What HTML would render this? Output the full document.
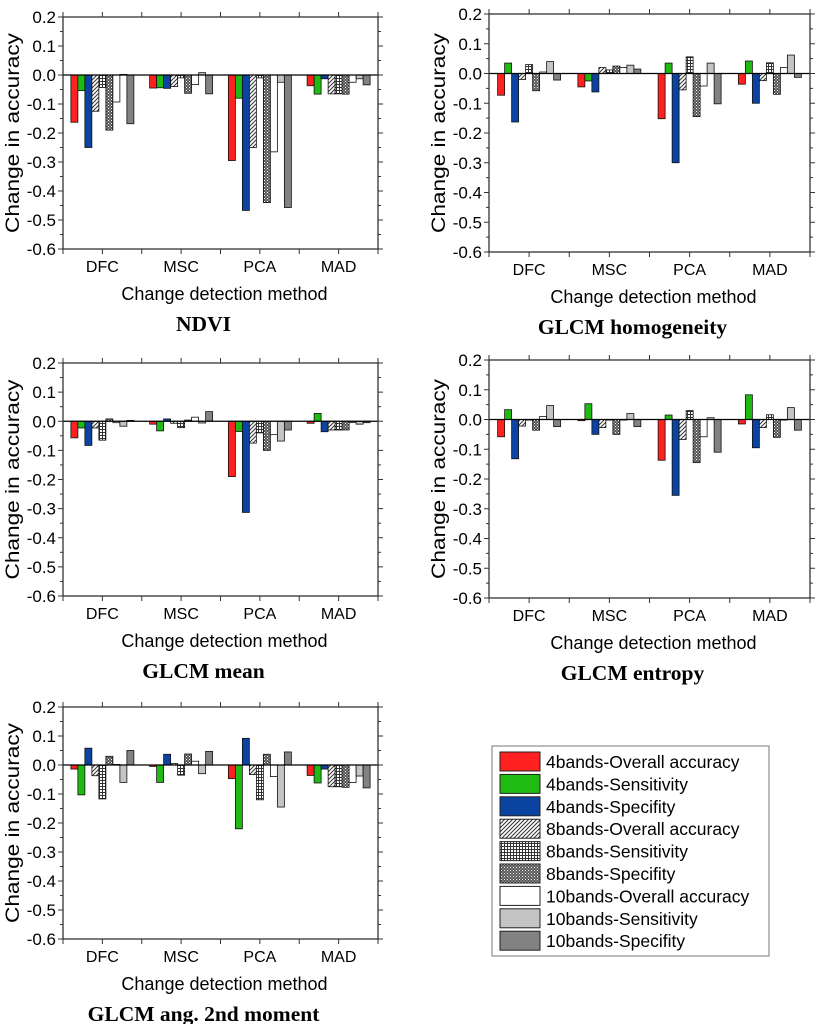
<!DOCTYPE html>
<html><head><meta charset="utf-8"><style>
body{margin:0;background:#fff;width:822px;height:1024px;overflow:hidden}
svg{display:block}
text{font-family:"Liberation Sans",sans-serif;fill:#000}
.ttl{font-family:"Liberation Serif",serif;font-weight:bold;font-size:21.5px}
</style></head><body>
<svg id="fig" width="822" height="1024" viewBox="0 0 822 1024" xmlns="http://www.w3.org/2000/svg">
<defs>
<pattern id="p-hatch" width="4" height="4" patternUnits="userSpaceOnUse"><rect width="4" height="4" fill="#fff"/><path d="M-1,5 L5,-1 M-1,1 L1,-1 M3,5 L5,3" stroke="#333" stroke-width="1"/></pattern>
<pattern id="p-grid" width="3" height="3" patternUnits="userSpaceOnUse"><rect width="3" height="3" fill="#fff"/><path d="M0,0.5 H3 M0.5,0 V3" stroke="#333" stroke-width="1"/></pattern>
<pattern id="p-cross" width="3" height="3" patternUnits="userSpaceOnUse"><rect width="3" height="3" fill="#555"/><rect x="0" y="0" width="1" height="1" fill="#fff"/><rect x="1.5" y="1.5" width="1" height="1" fill="#ddd"/></pattern>
</defs>
</svg>
<script>
const categories = ["DFC","MSC","PCA","MAD"];
const seriesNames = ["4bands-Overall accuracy","4bands-Sensitivity","4bands-Specifity","8bands-Overall accuracy","8bands-Sensitivity","8bands-Specifity","10bands-Overall accuracy","10bands-Sensitivity","10bands-Specifity"];
const yTicks = ["0.2","0.1","0.0","-0.1","-0.2","-0.3","-0.4","-0.5","-0.6"];
// values[category][series]
const ndvi = [
 [-0.163,-0.054,-0.25,-0.125,-0.043,-0.19,-0.093,0.002,-0.168],
 [-0.045,-0.044,-0.046,-0.04,-0.01,-0.063,-0.033,0.008,-0.065],
 [-0.295,-0.08,-0.467,-0.25,-0.01,-0.44,-0.265,-0.025,-0.457],
 [-0.037,-0.066,-0.013,-0.065,-0.065,-0.066,-0.025,-0.013,-0.034]];
const homogeneity = [
 [-0.073,0.035,-0.163,-0.02,0.03,-0.058,0.005,0.04,-0.022],
 [-0.045,-0.025,-0.062,0.02,0.012,0.025,0.02,0.028,0.015],
 [-0.152,0.035,-0.30,-0.055,0.056,-0.145,-0.042,0.035,-0.102],
 [-0.036,0.042,-0.1,-0.024,0.036,-0.07,0.02,0.062,-0.013]];
const meanV = [
 [-0.057,-0.023,-0.083,-0.023,-0.065,0.008,-0.005,-0.017,0.003],
 [-0.01,-0.033,0.008,-0.007,-0.022,0.004,0.014,-0.006,0.033],
 [-0.19,-0.035,-0.313,-0.075,-0.04,-0.1,-0.046,-0.068,-0.03],
 [-0.007,0.027,-0.036,-0.03,-0.03,-0.03,-0.004,-0.01,-0.005]];
const entropy = [
 [-0.058,0.033,-0.132,-0.022,-0.002,-0.036,0.01,0.047,-0.024],
 [-0.004,0.053,-0.05,-0.027,-0.002,-0.05,-0.002,0.02,-0.024],
 [-0.137,0.015,-0.255,-0.067,0.03,-0.145,-0.058,0.006,-0.11],
 [-0.015,0.083,-0.095,-0.027,0.016,-0.06,-0.002,0.04,-0.036]];
const asm2 = [
 [-0.014,-0.103,0.058,-0.037,-0.117,0.03,0.002,-0.06,0.05],
 [-0.005,-0.06,0.037,0.005,-0.035,0.038,0.013,-0.03,0.047],
 [-0.047,-0.22,0.092,-0.033,-0.12,0.037,-0.04,-0.145,0.045],
 [-0.036,-0.062,-0.014,-0.075,-0.075,-0.077,-0.06,-0.038,-0.079]];

const fills=["#ff2020","#1fbb12","#0a44a0","url(#p-hatch)","url(#p-grid)","url(#p-cross)","#ffffff","#c4c4c4","#828282"];
const NS="http://www.w3.org/2000/svg";
const svg=document.getElementById('fig');
function mk(tag,attrs,parent){const e=document.createElementNS(NS,tag);for(const k in attrs)e.setAttribute(k,attrs[k]);(parent||svg).appendChild(e);return e;}

function chart(id,title,data,x0,x1,yT,yB){
  const g=mk('g',{});
  
  
  const y=v=>yT+(0.2-v)/0.8*(yB-yT);
  const gw=(x1-x0)/categories.length, bw=7;
  data.forEach((row,ci)=>{
    const cx=x0+gw*(ci+0.5), start=cx-bw*row.length/2;
    row.forEach((v,si)=>{
      const top=Math.min(y(v),y(0)), h=Math.max(Math.abs(y(v)-y(0)),0.5);
      const r=mk('rect',{x:start+si*bw,y:top,width:bw,height:h,fill:fills[si],stroke:'#111','stroke-width':0.8},g);
      
      
    });
  });
  mk('line',{x1:x0,x2:x1,y1:y(0),y2:y(0),stroke:'#000','stroke-width':1.2},g);
  const f=mk('rect',{x:x0,y:yT,width:x1-x0,height:yB-yT,fill:'none',stroke:'#333','stroke-width':1.3},g);
  
  
  yTicks.forEach(t=>{
    const v=parseFloat(t), yy=y(v);
    mk('line',{x1:x0-5,x2:x0,y1:yy,y2:yy,stroke:'#333'},g);
    mk('line',{x1:x1,x2:x1+5,y1:yy,y2:yy,stroke:'#333'},g);
    if(v>-0.6){const ym=y(v-0.05);mk('line',{x1:x0-3,x2:x0,y1:ym,y2:ym,stroke:'#333'},g);mk('line',{x1:x1,x2:x1+3,y1:ym,y2:ym,stroke:'#333'},g);}
    const tx=mk('text',{x:x0-7,y:yy+6,'text-anchor':'end','font-size':'17px'},g);tx.textContent=t;
    
    
  });
  for(let i=0;i<=categories.length*2;i++){
    const xx=x0+gw*i/2;
    mk('line',{x1:xx,x2:xx,y1:yB,y2:yB+5,stroke:'#333'},g);
    mk('line',{x1:xx,x2:xx,y1:yT-5,y2:yT,stroke:'#333'},g);
  }
  categories.forEach((c,ci)=>{
    const tx=mk('text',{x:x0+gw*(ci+0.5),y:yB+23,'text-anchor':'middle','font-size':'16px'},g);tx.textContent=c;
    
    
  });
  const xt=mk('text',{x:(x0+x1)/2+4,y:yB+51,'text-anchor':'middle','font-size':'18px'},g);xt.textContent='Change detection method';
  
  
  const ym=(yT+yB)/2, yx=x0-44;
  const yt=mk('text',{x:yx,y:ym,'text-anchor':'middle','font-size':'19px',textLength:'200',lengthAdjust:'spacingAndGlyphs',transform:`rotate(-90 ${yx} ${ym})`},g);yt.textContent='Change in accuracy';
  
  
  const tt=mk('text',{x:(x0+x1)/2-17,y:yB+82,'text-anchor':'middle',class:'ttl'},g);tt.textContent=title;
  
  
}
chart('ndvi','NDVI',ndvi,63,378,17,249);
chart('glcm-homogeneity','GLCM homogeneity',homogeneity,489,810,14,252);
chart('glcm-mean','GLCM mean',meanV,63,378,363,596);
chart('glcm-entropy','GLCM entropy',entropy,489,810,360,598);
chart('glcm-asm','GLCM ang. 2nd moment',asm2,63,378,707,939);

const lg=mk('g',{});


mk('rect',{x:492,y:746,width:277,height:210,fill:'#fff',stroke:'#777','stroke-width':1},lg);
seriesNames.forEach((n,i)=>{
  const yy=752+i*22.4;
  const e=mk('g',{},lg);
  
  
  mk('rect',{x:500,y:yy,width:40,height:19,fill:fills[i],stroke:'#222','stroke-width':1},e);
  const t=mk('text',{x:546,y:yy+16,'font-size':'17.5px'},e);t.textContent=n;
});
</script>
</body></html>
